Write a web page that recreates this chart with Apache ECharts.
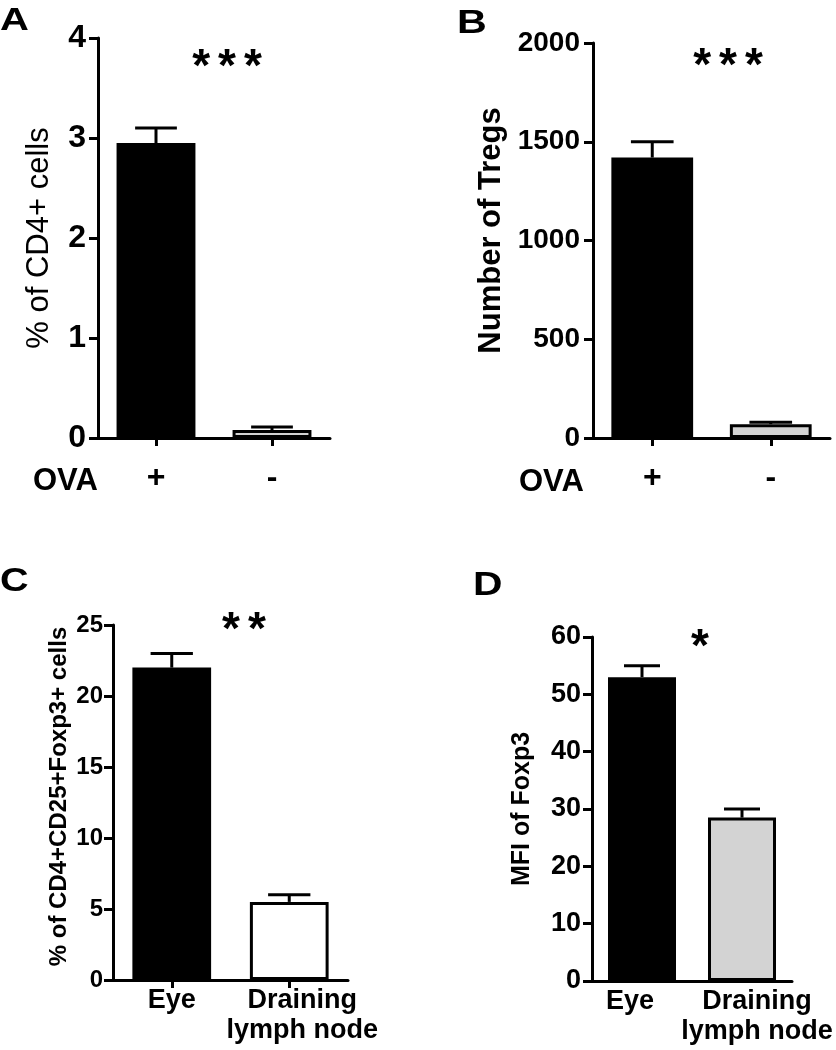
<!DOCTYPE html>
<html>
<head>
<meta charset="utf-8">
<script src="https://cdn.jsdelivr.net/npm/echarts@6/dist/echarts.min.js"></script>
<style>
html,body{margin:0;padding:0;background:#fff;}
#chart{width:836px;height:1050px;}
</style>
</head>
<body>
<div id="chart"></div>
<script>
// ---- Data ----
const catsA = ['+', '-'];
const valsA = [2.95, 0.08];
const errsA = [0.15, 0.03];

const catsB = ['+', '-'];
const valsB = [1420, 70];
const errsB = [80, 10];

const catsC = ['Eye', 'Draining\nlymph node'];
const valsC = [22, 5.5];
const errsC = [1, 0.5];

const catsD = ['Eye', 'Draining\nlymph node'];
const valsD = [53, 28.5];
const errsD = [2, 1.5];

const yTitleA = '% of CD4+ cells';
const yTitleB = 'Number of Tregs';
const yTitleC = '% of CD4+CD25+Foxp3+ cells';
const yTitleD = 'MFI of Foxp3';

const FONT = '"Liberation Sans", Arial, sans-serif';

function errRender(params, api) {
  const x = api.value(0), v = api.value(1), t = api.value(2);
  const p0 = api.coord([x, v]);
  const p1 = api.coord([x, t]);
  const w = api.size([1, 0])[0] * 0.36;
  return {
    type: 'group',
    children: [
      { type: 'line', shape: { x1: p0[0], y1: p0[1], x2: p1[0], y2: p1[1] }, style: { stroke: '#000', lineWidth: 3 } },
      { type: 'line', shape: { x1: p1[0] - w / 2, y1: p1[1], x2: p1[0] + w / 2, y2: p1[1] }, style: { stroke: '#000', lineWidth: 3 } }
    ]
  };
}

function barData(vals, fills) {
  return vals.map((v, i) => ({ value: v, itemStyle: { color: fills[i], borderColor: '#000', borderWidth: 3 } }));
}
function errData(vals, errs) {
  return vals.map((v, i) => [i, v, v + errs[i]]);
}

const axisLineStyle = { show: true, lineStyle: { color: '#000', width: 3 } };

function xAxis(gi, cats, fontSize, margin, showTick, rich, fmt) {
  return {
    type: 'category', gridIndex: gi, data: cats,
    axisLine: axisLineStyle,
    axisTick: { show: showTick, alignWithLabel: true, length: 8, lineStyle: { color: '#000', width: 3 } },
    axisLabel: {
      color: '#000', fontFamily: FONT, fontWeight: 'bold', fontSize: fontSize, margin: margin,
      interval: 0, lineHeight: 30, rich: rich, formatter: fmt
    }
  };
}
function yAxis(gi, max, interval, fontSize, margin, name, nameSize, nameWeight, nameGap, namePad) {
  return {
    type: 'value', gridIndex: gi, min: 0, max: max, interval: interval,
    splitLine: { show: false },
    axisLine: axisLineStyle,
    axisTick: { show: true, length: 9, lineStyle: { color: '#000', width: 3 } },
    axisLabel: { color: '#000', fontFamily: FONT, fontWeight: 'bold', fontSize: fontSize, margin: margin,
      formatter: v => String(v) },
    name: name, nameLocation: 'middle', nameRotate: 90, nameGap: nameGap,
    nameTextStyle: { color: '#000', fontFamily: FONT, fontWeight: nameWeight, fontSize: nameSize, padding: namePad }
  };
}

const richC = {
  a: { fontFamily: FONT, fontWeight: 'bold', fontSize: 27, color: '#000', lineHeight: 30 },
  b: { fontFamily: FONT, fontWeight: 'bold', fontSize: 27, color: '#000', lineHeight: 30, padding: [0, 0, 0, 26] }
};
const richD = {
  a: { fontFamily: FONT, fontWeight: 'bold', fontSize: 27, color: '#000', lineHeight: 30, padding: [0, 24, 0, 0] },
  b: { fontFamily: FONT, fontWeight: 'bold', fontSize: 27, color: '#000', lineHeight: 30, padding: [0, 0, 0, 30] }
};
function fmtRich(v, i) {
  if (i === 0) return '{a|' + v + '}';
  return v.split('\n').map(s => '{b|' + s + '}').join('\n');
}

function txt(x, y, s, size, align, vAlign, sx) {
  return {
    type: 'text', x: x, y: y, scaleX: sx || 1,
    style: { text: s, fill: '#000', font: 'bold ' + size + 'px ' + FONT, textAlign: align, textVerticalAlign: vAlign }
  };
}
function stars(x, y, n) {
  return {
    type: 'text', x: x, y: y,
    style: {
      text: Array(n).fill('{s|*}').join(''),
      textAlign: 'center', textVerticalAlign: 'middle',
      rich: { s: { fontFamily: FONT, fontWeight: 'bold', fontSize: 46, fill: '#000', color: '#000', padding: [0, 4, 0, 4] } }
    }
  };
}

const option = {
  animation: false,
  backgroundColor: '#fff',
  grid: [
    { left: 98, top: 38, width: 232, height: 400 },
    { left: 593, top: 43, width: 237, height: 395 },
    { left: 113, top: 625, width: 235, height: 355 },
    { left: 592, top: 637, width: 200, height: 344 }
  ],
  xAxis: [
    xAxis(0, catsA, 32, 25, true),
    xAxis(1, catsB, 32, 25, true),
    xAxis(2, catsC, 27, 6, true, richC, fmtRich),
    xAxis(3, catsD, 27, 6, false, richD, fmtRich)
  ],
  yAxis: [
    yAxis(0, 4, 1, 32, 12, yTitleA, 31, 'normal', 43, [0, 0, 0, 0]),
    yAxis(1, 2000, 500, 28, 13, yTitleB, 31, 'bold', 86, [0, 0, 0, 20]),
    yAxis(2, 25, 5, 24, 10, yTitleC, 24, 'bold', 42, [0, 0, 0, 12]),
    yAxis(3, 60, 10, 27, 11, yTitleD, 25, 'bold', 57, [0, 0, 0, 0])
  ],
  series: [
    { type: 'bar', xAxisIndex: 0, yAxisIndex: 0, barWidth: '68%', data: barData(valsA, ['#000', '#d3d3d3']) },
    { type: 'bar', xAxisIndex: 1, yAxisIndex: 1, barWidth: '69%', data: barData(valsB, ['#000', '#d3d3d3']) },
    { type: 'bar', xAxisIndex: 2, yAxisIndex: 2, barWidth: '67%', data: barData(valsC, ['#000', '#fff']) },
    { type: 'bar', xAxisIndex: 3, yAxisIndex: 3, barWidth: '68%', data: barData(valsD, ['#000', '#d3d3d3']) },
    { type: 'custom', xAxisIndex: 0, yAxisIndex: 0, renderItem: errRender, encode: { x: 0, y: [1, 2] }, data: errData(valsA, errsA), z: 5 },
    { type: 'custom', xAxisIndex: 1, yAxisIndex: 1, renderItem: errRender, encode: { x: 0, y: [1, 2] }, data: errData(valsB, errsB), z: 5 },
    { type: 'custom', xAxisIndex: 2, yAxisIndex: 2, renderItem: errRender, encode: { x: 0, y: [1, 2] }, data: errData(valsC, errsC), z: 5 },
    { type: 'custom', xAxisIndex: 3, yAxisIndex: 3, renderItem: errRender, encode: { x: 0, y: [1, 2] }, data: errData(valsD, errsD), z: 5 }
  ],
  graphic: [
    txt(0, 21, 'A', 32, 'left', 'middle', 1.25),
    txt(457, 24, 'B', 33, 'left', 'middle', 1.25),
    txt(0, 582, 'C', 33, 'left', 'middle', 1.2),
    txt(473, 586, 'D', 34, 'left', 'middle', 1.2),
    txt(33, 481, 'OVA', 31, 'left', 'middle'),
    txt(519, 482, 'OVA', 31, 'left', 'middle'),
    stars(227, 68, 3),
    stars(728, 67, 3),
    stars(244, 631, 2),
    stars(700, 648, 1)
  ]
};

const chart = echarts.init(document.getElementById('chart'), null, { renderer: 'canvas' });
chart.setOption(option);
</script>
</body>
</html>
